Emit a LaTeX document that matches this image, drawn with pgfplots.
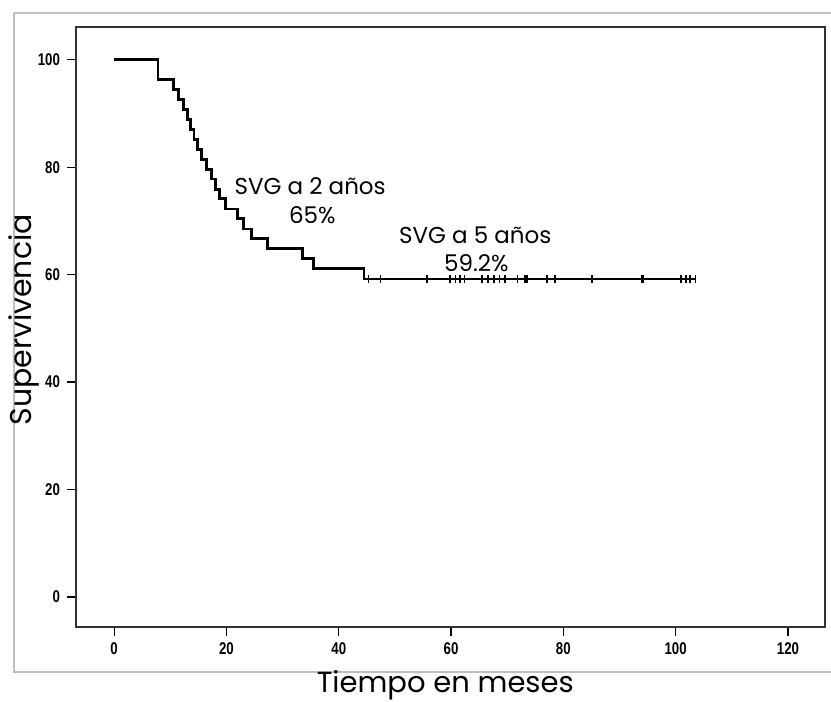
\documentclass[border=0pt]{standalone}
\usepackage{pgfplots}
\pgfplotsset{compat=1.18}
\usepackage{fontspec}
\setmainfont{Poppins}
\newfontfamily\tickfont[FakeStretch=0.78]{Liberation Sans}
\begin{document}
\begin{tikzpicture}
\useasboundingbox (0pt,0pt) rectangle (415.5pt,-351pt);
\draw[black!25, line width=0.6pt] (7pt,-6.5pt) -- (420pt,-6.5pt);
\draw[black!25, line width=0.6pt] (7pt,-6.5pt) -- (7pt,-336pt) -- (420pt,-336pt);
\begin{axis}[
  at={(38pt,-313.5pt)}, anchor=south west,
  scale only axis, width=374.5pt, height=300pt,
  xmin=-6.8, xmax=126.6, ymin=-5.6, ymax=106.1,
  xtick={0,20,...,120}, ytick={0,20,...,100},
  tick align=outside, tick pos=left,
  major tick length=4.5pt,
  every tick/.style={black, line width=0.6pt},
  axis line style={line width=0.9pt, black!80},
  /pgf/number format/assume math mode=true,
  ticklabel style={font=\tickfont\bfseries\fontsize{8.5}{10}\selectfont},
  xlabel={Tiempo en meses},
  ylabel={Supervivencia},
  xlabel style={font=\fontsize{14.5}{16}\selectfont, at={(axis description cs:0.493,-0.097)}, anchor=center},
  ylabel style={font=\fontsize{15}{17}\selectfont, at={(axis description cs:-0.069,0.512)}, anchor=center, rotate=0},
  clip=false,
]
\addplot[const plot, black, line width=1.4pt] coordinates {
(0,100) (7.8,96.3) (10.5,94.4) (11.5,92.6) (12.3,90.7) (13,88.9) (13.6,87.0)
(14.2,85.2) (14.8,83.3) (15.5,81.5) (16.5,79.6) (17.3,77.8) (18,75.9)
(18.8,74.1) (19.8,72.2) (22,70.4) (23,68.5) (24.5,66.7) (27.3,64.8)
(33.5,63.0) (35.5,61.1) (44.5,59.2) (103.5,59.2)
};
\addplot[only marks, mark=|, mark size=2pt, black, mark options={line width=0.8pt}] coordinates {
(45.3,59.2) (47.4,59.2) (55.7,59.2) (59.8,59.2) (60.8,59.2) (61.6,59.2) (62.4,59.2)
(65.5,59.2) (66.6,59.2) (67.6,59.2) (68.6,59.2) (69.6,59.2) (71.8,59.2) (73.2,59.2)
(73.5,59.2) (77.1,59.2) (78.5,59.2) (85.1,59.2) (94.0,59.2) (94.3,59.2)
(100.9,59.2) (101.8,59.2) (102.6,59.2) (103.5,59.2)
};
\node[font=\fontsize{11.5}{13}\selectfont] at (axis cs:34.9,76.5) {SVG a 2 años};
\node[font=\fontsize{11.5}{13}\selectfont] at (axis cs:35.3,71.1) {65\%};
\node[font=\fontsize{11.5}{13}\selectfont] at (axis cs:64.3,67.4) {SVG a 5 años};
\node[font=\fontsize{11.5}{13}\selectfont] at (axis cs:64.5,62.2) {59.2\%};
\end{axis}
\end{tikzpicture}
\end{document}
